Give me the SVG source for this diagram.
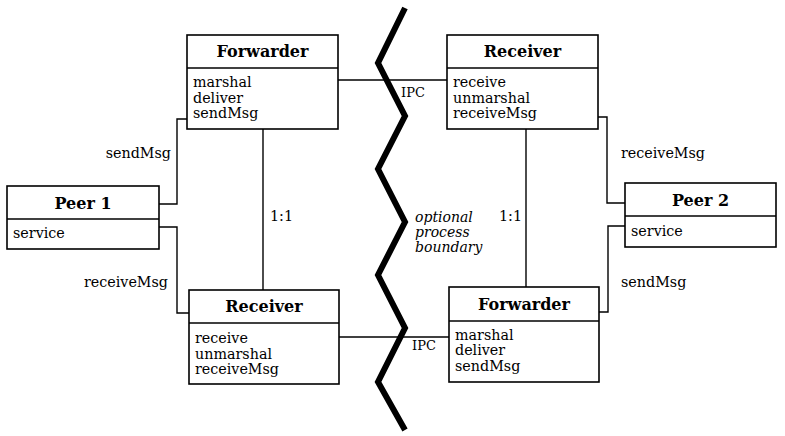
<svg xmlns="http://www.w3.org/2000/svg" width="785" height="436" viewBox="0 0 785 436">
<style>
.box{fill:#fff;stroke:#000;stroke-width:1.6}
.div{stroke:#000;stroke-width:1.4}
.ln{fill:none;stroke:#000;stroke-width:1.4}
text{font-family:"DejaVu Serif","Liberation Serif",serif;font-size:14.3px;fill:#000}
.t{font-weight:bold;font-size:16px;text-anchor:middle}
.it{font-style:italic;font-size:14px}
.end{text-anchor:end}
</style>
<rect width="785" height="436" fill="#fff"/>
<g id="connectors">
<path class="ln" d="M338,80 H447"/>
<path class="ln" d="M339,337 H449"/>
<path class="ln" d="M263,129 V290"/>
<path class="ln" d="M526,129 V287"/>
<path class="ln" d="M159,204 H177 V119 H187"/>
<path class="ln" d="M159,227 H177 V313 H189"/>
<path class="ln" d="M598,117 H607 V203 H625"/>
<path class="ln" d="M625,226 H608 V312 H599"/>
<text x="171" y="158" class="end">sendMsg</text>
<text x="168" y="287" class="end">receiveMsg</text>
<text x="621" y="158">receiveMsg</text>
<text x="621" y="287">sendMsg</text>
<text x="270" y="221">1:1</text>
<text x="499" y="221">1:1</text>
<text x="401" y="97" style="font-size:13px">IPC</text>
<text x="412" y="350" style="font-size:13px">IPC</text>
</g>
<g id="boundary">
<polyline points="405,8 378,63 405,116 378,169 405,222 378,275 405,328 378,382 405,430" fill="none" stroke="#000" stroke-width="6" stroke-linejoin="miter"/>
<text x="415" y="222" class="it">optional</text>
<text x="415" y="237" class="it">process</text>
<text x="415" y="252" class="it">boundary</text>
</g>
<g id="forwarder1">
<rect class="box" x="187" y="35" width="151" height="94"/>
<line class="div" x1="187" y1="68" x2="338" y2="68"/>
<text x="262.5" y="57" class="t">Forwarder</text>
<text x="193" y="87">marshal</text>
<text x="193" y="103">deliver</text>
<text x="193" y="118">sendMsg</text>
</g>
<g id="receiver1">
<rect class="box" x="189" y="290" width="150" height="94"/>
<line class="div" x1="189" y1="323" x2="339" y2="323"/>
<text x="264" y="312" class="t">Receiver</text>
<text x="195" y="343">receive</text>
<text x="195" y="359">unmarshal</text>
<text x="195" y="374">receiveMsg</text>
</g>
<g id="receiver2">
<rect class="box" x="447" y="35" width="151" height="94"/>
<line class="div" x1="447" y1="68" x2="598" y2="68"/>
<text x="522.5" y="57" class="t">Receiver</text>
<text x="453" y="87">receive</text>
<text x="453" y="103">unmarshal</text>
<text x="453" y="118">receiveMsg</text>
</g>
<g id="forwarder2">
<rect class="box" x="449" y="287" width="150" height="95"/>
<line class="div" x1="449" y1="321" x2="599" y2="321"/>
<text x="524" y="310" class="t">Forwarder</text>
<text x="455" y="340">marshal</text>
<text x="455" y="355">deliver</text>
<text x="455" y="371">sendMsg</text>
</g>
<g id="peer1">
<rect class="box" x="7" y="186" width="152" height="63"/>
<line class="div" x1="7" y1="219" x2="159" y2="219"/>
<text x="83" y="209" class="t">Peer 1</text>
<text x="13" y="238">service</text>
</g>
<g id="peer2">
<rect class="box" x="625" y="183" width="151" height="64"/>
<line class="div" x1="625" y1="216" x2="776" y2="216"/>
<text x="700.5" y="206" class="t">Peer 2</text>
<text x="631" y="236">service</text>
</g>
</svg>
